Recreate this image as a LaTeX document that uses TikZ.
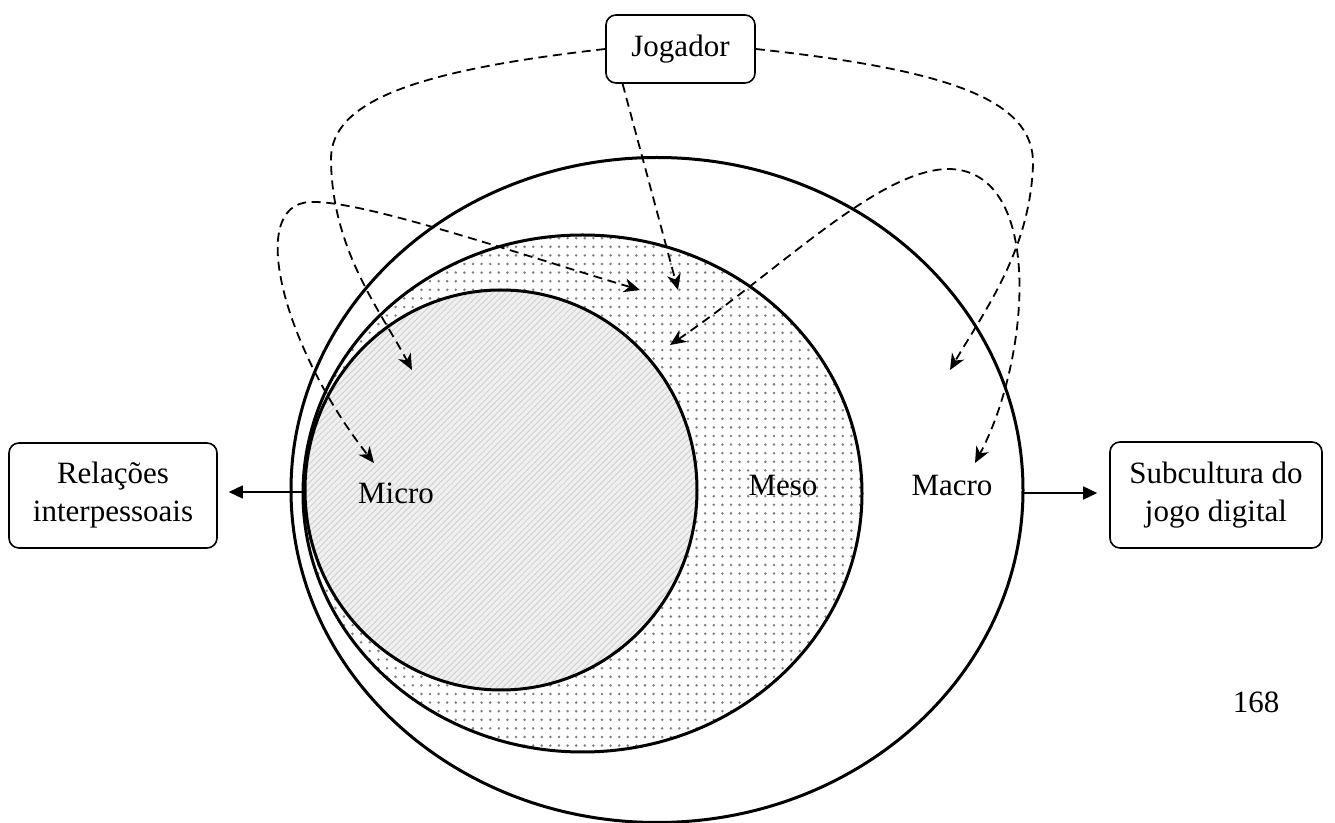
\documentclass[tikz,border=0pt]{standalone}
\usepackage{fontspec}
\setmainfont{Liberation Serif}
\usetikzlibrary{arrows.meta,patterns.meta}
\begin{document}
\begin{tikzpicture}[x=0.5pt,y=-0.5pt,
  every node/.style={font=\fontsize{15.5}{19}\selectfont, inner sep=0pt},
  box/.style={draw, line width=0.8pt, rounded corners=5pt, align=center},
  ring/.style={line width=1.5pt},
  dlink/.style={dash pattern=on 4.5pt off 2.8pt, line width=0.9pt},
  dtip/.style={-{Stealth[length=8pt,width=7pt,inset=2.5pt]}},
  dboth/.style={{Stealth[length=8pt,width=7pt,inset=2.5pt]}-{Stealth[length=8pt,width=7pt,inset=2.5pt]}},
  stip/.style={line width=0.75pt, -{Triangle[length=7pt,width=6.5pt]}}
]
\useasboundingbox (0,0) rectangle (1335,823);
% circles
\draw[ring, fill=white] (657,490) ellipse [x radius=366, y radius=332.5];
\fill[pattern={Dots[radius=0.7pt,distance=4.3pt]}, pattern color=gray] (582.5,493.5) ellipse [x radius=279.5, y radius=258.5];
\draw[ring] (582.5,493.5) ellipse [x radius=279.5, y radius=258.5];
\fill[gray!12] (501,490) ellipse [x radius=196, y radius=200];
\fill[pattern={Lines[angle=45,distance=2.2pt,line width=0.5pt]}, pattern color=gray!35] (501,490) ellipse [x radius=196, y radius=200];
\draw[ring] (501,490) ellipse [x radius=196, y radius=200];
% nodes
\node[box, minimum width=74.5pt, minimum height=34pt] (jog) at (680.5,49) {Jogador};
\node[box, minimum width=104pt, minimum height=52.5pt] (rel) at (113,495.5) {Relações\\interpessoais};
\node[box, minimum width=106pt, minimum height=53pt] (sub) at (1216,495) {Subcultura do\\jogo digital};
\node (mic) at (396,493) {Micro};
\node (mes) at (783,486) {Meso};
\node (mac) at (952,486) {Macro};
\node (pg) at (1256,702) {168};
% coordinates
\coordinate (p1) at (412,370);
\coordinate (p2) at (678,290);
\coordinate (p3) at (950,370);
\coordinate (p4a) at (640,290);
\coordinate (p4b) at (374,463);
\coordinate (p5a) at (670,345);
\coordinate (p5b) at (975,463);
\coordinate (mW) at (303,492);
\coordinate (oE) at (1023,493);
% dashed connectors
\draw[dlink,dtip] (jog.west) .. controls (420,70) and (330,100) .. (331,160) .. controls (332,250) and (380,310) .. (p1);
\draw[dlink,dtip] (jog.211) -- (p2);
\draw[dlink,dtip] (jog.east) .. controls (950,70) and (1035,100) .. (1033,165) .. controls (1030,250) and (985,310) .. (p3);
\draw[dlink,dboth] (p4a) .. controls (500,248) and (360,200) .. (310,202) .. controls (245,205) and (285,350) .. (p4b);
\draw[dlink,dboth] (p5a) .. controls (780,270) and (880,168) .. (950,169) .. controls (1045,172) and (1030,360) .. (p5b);
% solid arrows
\draw[stip, shorten >=5.5pt] (mW) -- (rel.east |- mW);
\draw[stip, shorten >=6pt] (oE) -- (sub.west |- oE);
\end{tikzpicture}
\end{document}
